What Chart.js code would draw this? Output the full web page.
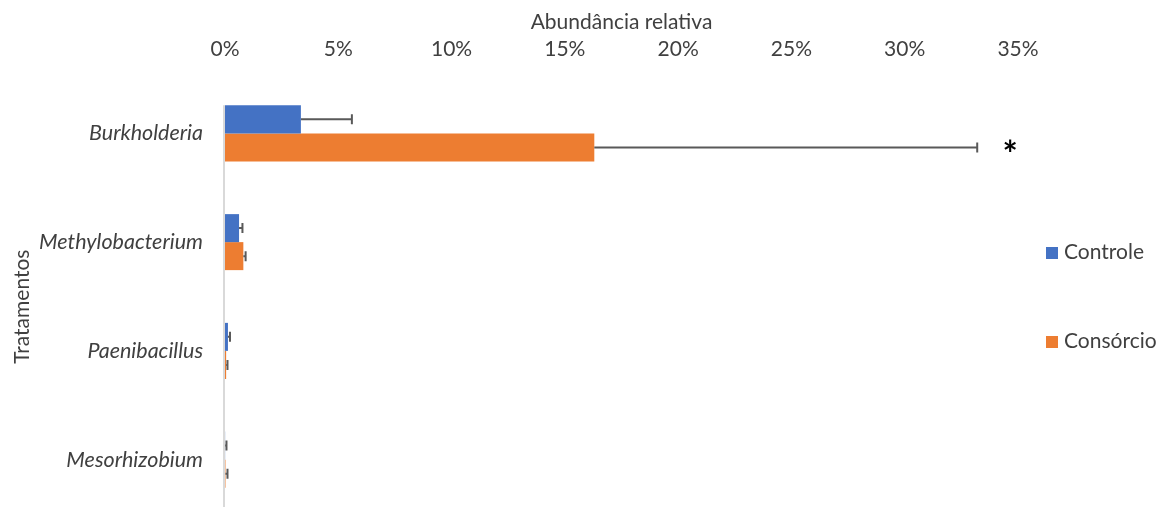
<!DOCTYPE html>
<html>
<head>
<meta charset="utf-8">
<script src="https://cdn.jsdelivr.net/npm/chart.js@4.4.0/dist/chart.umd.min.js"></script>
<style>
  html, body { margin: 0; padding: 0; background: #fff; overflow: hidden; }
  .graph-container { position: relative; width: 1161px; height: 520px; }
</style>
</head>
<body>
<div class="graph-container"><canvas id="myChart" width="1161" height="520"></canvas></div>
<script>
// genera e abundancia relativa (%) com erro padrao
const generos = ['Burkholderia', 'Methylobacterium', 'Paenibacillus', 'Mesorhizobium'];
const controle = [3.35, 0.62, 0.13, 0.005];
const controleErro = [2.25, 0.15, 0.09, 0.06];
const consorcio = [16.3, 0.81, 0.05, 0.02];
const consorcioErro = [16.9, 0.1, 0.06, 0.09];
const ticksX = [0, 5, 10, 15, 20, 25, 30, 35];
// asterisco de significancia por genero (so Burkholderia / Consórcio)
const significativo = ['*', '', '', ''];

const FONT = 'Lato';
const TXT = '#404040';

// barras de erro, eixo vertical, legenda e titulo do eixo Y
const extras = {
    id: 'extras',
    afterDatasetsDraw(chart) {
        const { ctx, chartArea, scales: { x } } = chart;
        ctx.save();

        // linha do eixo das categorias
        const first = chart.getDatasetMeta(0).data[0];
        const lineTop = first.y - first.height / 2;
        ctx.strokeStyle = '#d9d9d9';
        ctx.lineWidth = 2;
        ctx.beginPath();
        ctx.moveTo(chartArea.left - 1, lineTop);
        ctx.lineTo(chartArea.left - 1, chartArea.bottom);
        ctx.stroke();

        // erro (so lado positivo)
        ctx.strokeStyle = '#595959';
        ctx.lineWidth = 2;
        chart.data.datasets.forEach((ds, i) => {
            chart.getDatasetMeta(i).data.forEach((bar, j) => {
                const x0 = x.getPixelForValue(ds.data[j]);
                const x1 = x.getPixelForValue(ds.data[j] + ds.errors[j]);
                ctx.beginPath();
                ctx.moveTo(x0, bar.y);
                ctx.lineTo(x1, bar.y);
                ctx.moveTo(x1, bar.y - 5);
                ctx.lineTo(x1, bar.y + 5);
                ctx.stroke();
            });
        });

        // asterisco ao lado do erro do consorcio
        const cons = chart.data.datasets[1];
        ctx.fillStyle = '#000';
        ctx.font = 'bold 36px ' + FONT;
        ctx.textAlign = 'center';
        ctx.textBaseline = 'middle';
        chart.getDatasetMeta(1).data.forEach((bar, j) => {
            if (!significativo[j]) return;
            const xe = x.getPixelForValue(cons.data[j] + cons.errors[j]);
            ctx.fillText(significativo[j], xe + 33, bar.y + 8);
        });

        // legenda a direita
        const mid = (chartArea.top + chartArea.bottom) / 2;
        ctx.font = '21px ' + FONT;
        ctx.textAlign = 'left';
        chart.data.datasets.forEach((ds, i) => {
            const cy = mid + (i === 0 ? -44.5 : 44.5);
            ctx.fillStyle = ds.backgroundColor;
            ctx.fillRect(chartArea.right + 28, cy - 5, 12, 12);
            ctx.fillStyle = TXT;
            ctx.fillText(ds.label, chartArea.right + 46, cy);
        });

        // titulo do eixo Y
        ctx.save();
        ctx.translate(22, (lineTop + chartArea.bottom) / 2 - 3);
        ctx.rotate(-Math.PI / 2);
        ctx.textAlign = 'center';
        ctx.fillStyle = TXT;
        ctx.fillText('Tratamentos', 0, 0);
        ctx.restore();

        ctx.restore();
    }
};

const ctx = document.getElementById('myChart').getContext('2d');
new Chart(ctx, {
    type: 'bar',
    data: {
        labels: generos,
        datasets: [
            { label: 'Controle', data: controle, errors: controleErro, backgroundColor: '#4472C4' },
            { label: 'Consórcio', data: consorcio, errors: consorcioErro, backgroundColor: '#ED7D31' }
        ]
    },
    options: {
        indexAxis: 'y',
        responsive: false,
        animation: false,
        categoryPercentage: 0.515, barPercentage: 1,
        layout: { padding: { top: 0, right: 143, bottom: 6, left: 0 } },
        scales: {
            x: {
                position: 'top',
                min: 0, max: 35,
                afterBuildTicks: s => { s.ticks = ticksX.map(v => ({ value: v })); },
                afterFit: s => { s.height = 79; },
                grid: { display: false, drawTicks: false },
                border: { display: false },
                ticks: { padding: 17, color: TXT, font: { family: FONT, size: 21 }, callback: v => v + '%' },
                title: { display: true, text: 'Abundância relativa', color: TXT, font: { family: FONT, size: 21 }, padding: { top: 10, bottom: 0 } }
            },
            y: {
                // largura fixa e sem folga vertical extra dos rotulos
                afterFit: s => { s.width = 225; s.paddingTop = 0; s.paddingBottom = 0; },
                grid: { display: false, drawTicks: false },
                border: { display: false },
                ticks: { padding: 22, color: TXT, font: { family: FONT, size: 21.5, style: 'italic' } }
            }
        },
        plugins: { legend: { display: false }, tooltip: { enabled: false } }
    },
    plugins: [extras]
});
</script>
</body>
</html>
